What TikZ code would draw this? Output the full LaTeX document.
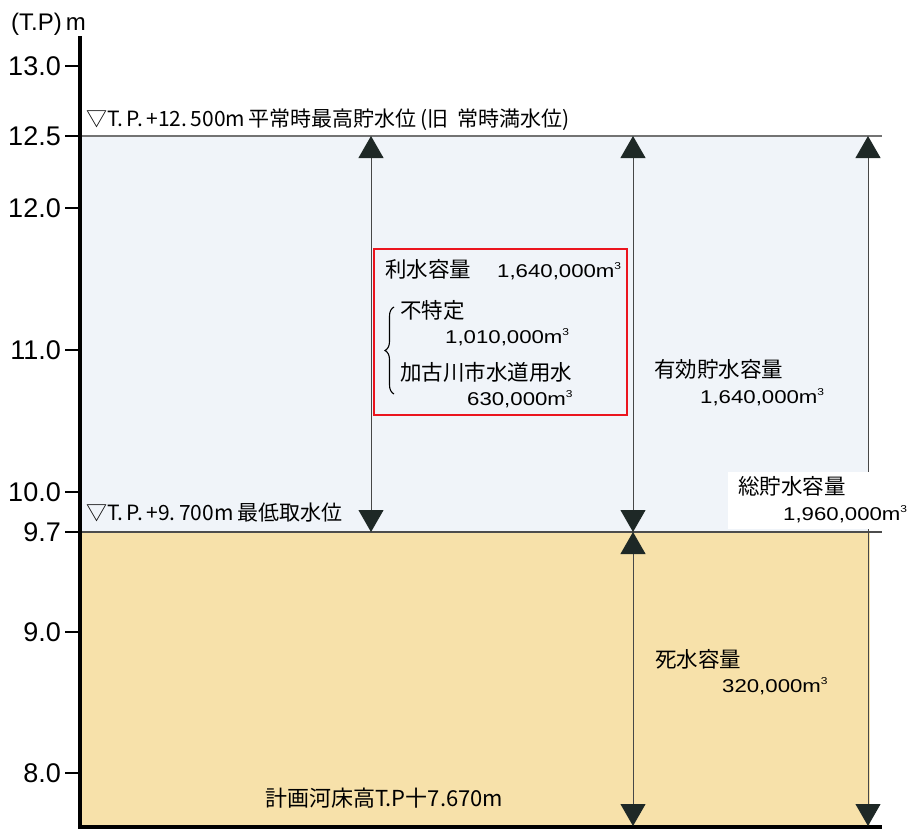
\documentclass[tikz,border=0pt]{standalone}
\usepackage{fontspec}
\setmainfont{Liberation Sans}
\newfontfamily\jp{Noto Sans CJK JP}
\newfontfamily\wide[FakeStretch=1.2]{Liberation Sans}
\usetikzlibrary{arrows.meta,decorations.pathreplacing}
\definecolor{water}{RGB}{240,244,249}
\definecolor{sand}{RGB}{247,225,170}
\definecolor{tipc}{RGB}{30,40,38}
\definecolor{redbox}{RGB}{235,20,30}
\newcommand\mcube{\raisebox{0.42em}{\fontsize{10}{10}\selectfont 3}}
\begin{document}
\begin{tikzpicture}[x=1pt,y=-1pt,
  lbl/.style={inner sep=0pt, anchor=base west},
  jpl/.style={lbl, font=\jp\fontsize{21.5}{21.5}\selectfont},
  hdr/.style={lbl, font=\jp\fontsize{21}{21}\selectfont},
  numl/.style={lbl, font=\wide\fontsize{18.5}{18.5}\selectfont},
  ticklbl/.style={inner sep=0pt, anchor=east, font=\fontsize{27}{27}\selectfont},
  dimline/.style={draw=black!72, line width=0.9pt, {Triangle[width=25pt,length=22pt,color=tipc,fill=tipc]}-{Triangle[width=25pt,length=22pt,color=tipc,fill=tipc]}},
  level/.style={line width=1.2pt},
]
\useasboundingbox (0,0) rectangle (909,830);
% regions
\fill[water] (80,136) rectangle (868,532);
\fill[sand] (80,532) rectangle (870,826);
% level lines
\draw[level, draw=black!55] (80,136) -- (882,136);
\draw[level, draw=black!70] (80,532) -- (882,532);
% axis
\coordinate (axtop) at (80,36);
\coordinate (axbot) at (80,828);
\coordinate (bedr) at (882,827);
\draw[line width=4pt] (axtop) -- (axbot);
\draw[line width=4pt] (78,827) -- (bedr);
\node[inner sep=0pt, anchor=base west, font=\fontsize{24}{24}\selectfont] (unit) at (11,30) {(T.P)\,m};
% ticks
\foreach \v/\y [count=\i] in {13.0/66,12.5/136,12.0/208,11.0/350,10.0/492,9.7/532,9.0/632,8.0/773}{
  \coordinate (tk\i) at (65,\y);
  \draw[line width=1.2pt] (tk\i) -- (80,\y);
  \node[ticklbl] (tl\i) at (61,\y) {\v};
}
% dimension arrows
\coordinate (a1t) at (371,136);
\coordinate (a1b) at (371,532);
\coordinate (a2t) at (633,136);
\coordinate (a2m) at (633,532);
\coordinate (a2b) at (633,826);
\coordinate (a3t) at (868,136);
\coordinate (a3b) at (868,826);
\draw[dimline] (a1t) -- (a1b);
\draw[dimline] (a2t) -- (a2m);
\draw[dimline] (a2m) -- (a2b);
\draw[dimline] (a3t) -- (a3b);
% level labels
\node[hdr] (h1) at (86,126) {▽T.\,P.\,+12.\,500m\,平常時最高貯水位\,(旧\ \ 常時満水位)};
\node[hdr] (h2) at (86,520) {▽T.\,P.\,+9.\,700m\,最低取水位};
% red box
\draw[draw=redbox, line width=2pt] (374,249) rectangle (627,415);
\coordinate (rb) at (374,249);
\node[jpl] (r1) at (385,277) {利水容量};
\node[numl] (r1n) at (497,277) {1,640,000m\mcube};
\node[jpl] (r2) at (400,318) {不特定};
\node[numl] (r2n) at (445,343) {1,010,000m\mcube};
\node[jpl] (r3) at (400,380) {加古川市水道用水};
\node[numl] (r3n) at (467,405) {630,000m\mcube};
\draw[decorate, decoration={brace, amplitude=9pt}, line width=1.1pt] (394,394) -- (394,307);
% right labels
\node[jpl] (e1) at (654,377) {有効貯水容量};
\node[numl] (e1n) at (700,403) {1,640,000m\mcube};
\fill[white] (728,472) rectangle (909,529);
\node[jpl] (t1) at (738,494) {総貯水容量};
\node[numl] (t1n) at (783,520) {1,960,000m\mcube};
\node[jpl] (d1) at (655,667) {死水容量};
\node[numl] (d1n) at (722,692) {320,000m\mcube};
\node[jpl, font=\jp\fontsize{22}{22}\selectfont] (bed) at (265,806) {計画河床高T.P十7.670m};
\end{tikzpicture}
\end{document}
